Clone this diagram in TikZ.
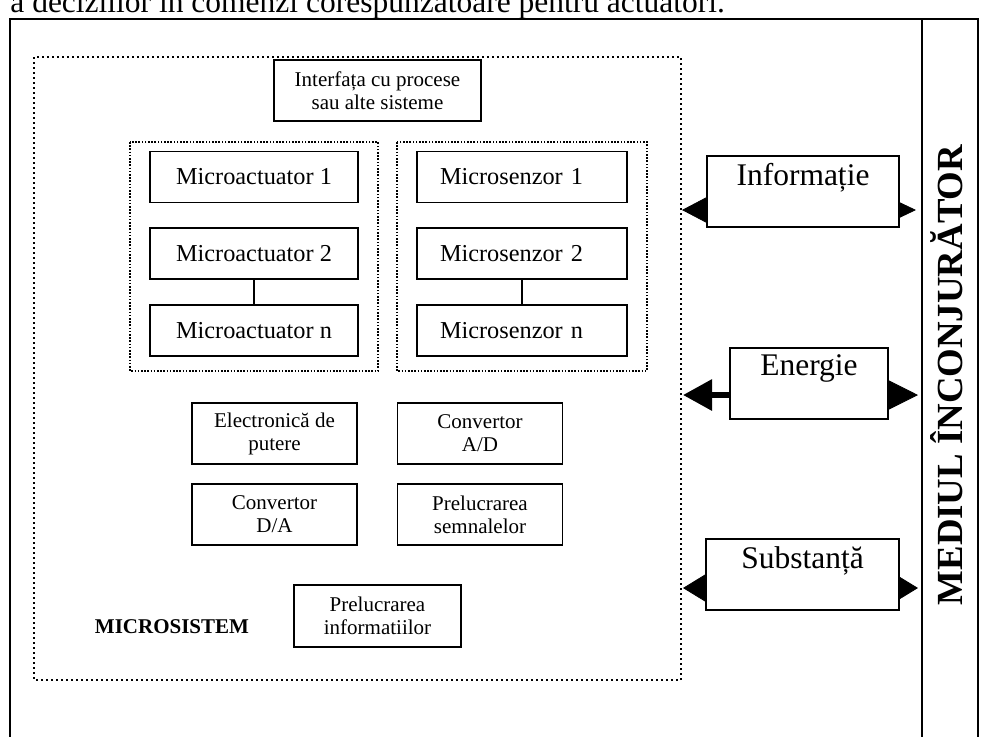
\documentclass[tikz,border=0pt]{standalone}
\usepackage{fontspec}
\setmainfont{Liberation Serif}
\usetikzlibrary{arrows.meta}

\begin{document}
\begin{tikzpicture}[x=0.5pt, y=-0.5pt,
    box/.style={draw, line width=0.8pt, inner sep=0pt, align=center},
    unit/.style={box, minimum width=104pt, minimum height=25.5pt, font=\fontsize{12.15pt}{14pt}\selectfont},
    sensor/.style={box, text width=82pt, inner xsep=11.5pt, minimum height=25.5pt, align=left, font=\fontsize{12.15pt}{14pt}\selectfont},
    small/.style={box, minimum width=82.5pt, minimum height=30.5pt, font=\fontsize{10.5pt}{11.5pt}\selectfont},
    side/.style={draw, line width=0.8pt, inner sep=0pt, text height=15pt, text depth=20.5pt, font=\fontsize{15.75pt}{18pt}\selectfont},
    dotbox/.style={line width=0.8pt, dash pattern=on 0.8pt off 0.8pt},
    tip/.style={line width=0.4pt}]
    \useasboundingbox (0,0) rectangle (982,736);
    \clip (0,0) rectangle (982,736);
    \node[anchor=base west, inner sep=0pt, font=\fontsize{15.75pt}{18pt}\selectfont] (txt) at (10,12) {a deciziilor în comenzi corespunzătoare pentru actuatori.};
    \draw[line width=0.8pt] (10,745) -- (10,19) -- (978,19) -- (978,745);
    \draw[line width=0.8pt] (922,19) -- (922,745);
    \node[rotate=90, anchor=base, inner sep=0pt, font=\bfseries\fontsize{18.4pt}{21pt}\selectfont] (env) at (962,375) {MEDIUL ÎNCONJURĂTOR};

    \draw[line width=1pt, dash pattern=on 1pt off 1.5pt] (34,57) rectangle (681,680);
    \node[small, minimum width=103.5pt] (iface) at (377.5,90.5) {Interfața cu procese\\sau alte sisteme};

    \draw[dotbox] (130,142) rectangle (378,371);
    \node[unit] (act1) at (254,177) {Microactuator 1};
    \node[unit] (act2) at (254,253.5) {Microactuator 2};
    \node[unit] (actn) at (254,330.5) {Microactuator n};
    \draw[line width=0.8pt] (act2) -- (actn);

    \draw[dotbox] (397,142) rectangle (647,371);
    \node[sensor] (sen1) at (522,177) {Microsenzor 1};
    \node[sensor] (sen2) at (522,253.5) {Microsenzor 2};
    \node[sensor] (senn) at (522,330.5) {Microsenzor n};
    \draw[line width=0.8pt] (sen2) -- (senn);

    \node[small] (elec) at (274.5,433.5) {Electronică de\\putere};
    \node[small] (adc) at (480,433.5) {Convertor\\A/D};
    \node[small] (dac) at (274.5,514.5) {Convertor\\D/A};
    \node[small] (sig) at (480,514.5) {Prelucrarea\\semnalelor};
    \node[small, minimum width=83.5pt, minimum height=31pt] (proc) at (377.5,616) {Prelucrarea\\informatiilor};
    \node[font=\bfseries\fontsize{10.5pt}{12pt}\selectfont] (micro) at (172,627) {MICROSISTEM};

    \node[side, minimum width=96pt, anchor=north] (inf) at (803,155) {Informație};
    \node[side, minimum width=79pt, anchor=north, text height=14pt, text depth=21.5pt] (en) at (809,347) {Energie};
    \node[side, minimum width=96.5pt, anchor=north] (sub) at (802.5,538) {Substanță};

    \coordinate (infL) at (682,210);
    \coordinate (infR) at (916,210);
    \coordinate (enL) at (683,395);
    \coordinate (enR) at (918,395);
    \coordinate (subL) at (683,588);
    \coordinate (subR) at (918,588);
    \draw[tip, -{Triangle[length=12.5pt, width=13pt]}] (inf.west |- infL) -- (infL);
    \draw[tip, -{Triangle[length=8.5pt, width=8pt]}] (inf.east |- infR) -- (infR);
    \draw[line width=3pt, -{Triangle[length=14.5pt, width=15pt]}] (en.west |- enL) -- (enL);
    \draw[tip, -{Triangle[length=15pt, width=15pt]}] (en.east |- enR) -- (enR);
    \draw[tip, -{Triangle[length=11.5pt, width=14pt]}] (sub.west |- subL) -- (subL);
    \draw[tip, -{Triangle[length=9.5pt, width=11.5pt]}] (sub.east |- subR) -- (subR);
\end{tikzpicture}
\end{document}
